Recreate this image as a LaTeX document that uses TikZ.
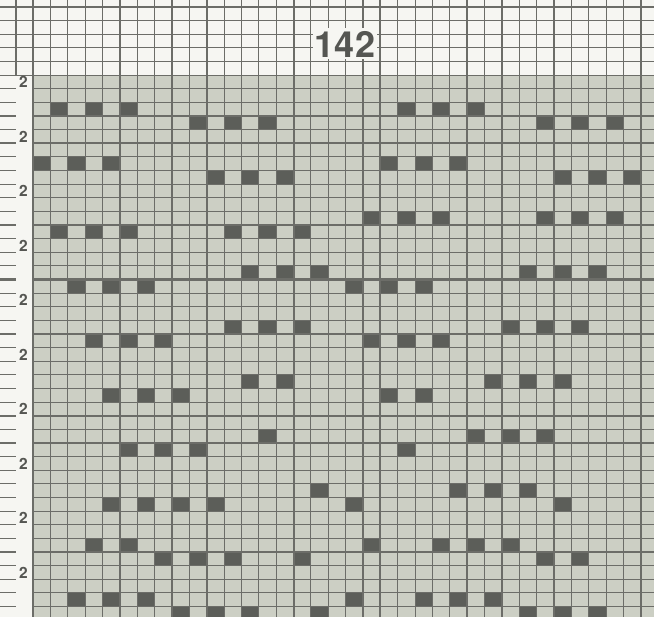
\documentclass[tikz,border=0pt]{standalone}
\usepackage{fontspec}
\setmainfont{TeX Gyre Heros}
\definecolor{paper}{RGB}{246,246,242}
\definecolor{cellgrey}{RGB}{204,207,196}
\definecolor{darkcell}{RGB}{92,94,89}
\definecolor{gridline}{RGB}{108,109,104}
\definecolor{txt}{RGB}{85,86,82}
\tikzset{
  thinline/.style={draw=gridline, line width=1.1pt},
  thickline/.style={draw=gridline, line width=2.1pt},
  knitcell/.style={fill=darkcell},
  rowlabel/.style={font=\bfseries\fontsize{15.5}{15.5}\selectfont, text=txt, inner sep=0pt},
  titlelabel/.style={font=\bfseries\fontsize{36}{36}\selectfont, text=txt, fill=paper, minimum width=64pt, minimum height=31pt, inner sep=0pt}
}
\begin{document}
\begin{tikzpicture}[x=1pt,y=-1pt]
\useasboundingbox (0,0) rectangle (654,617);
\clip (0,0) rectangle (654,617);
\fill[paper] (0,0) rectangle (654,617);
\fill[cellgrey] (33,75.1) rectangle (654,617);
% dark cells
\foreach \r/\cols in {2/{1,3,5,21,23,25}, 3/{9,11,13,29,31,33}, 6/{0,2,4,20,22,24}, 7/{10,12,14,30,32,34}, 10/{19,21,23,29,31,33}, 11/{1,3,5,11,13,15}, 14/{12,14,16,28,30,32}, 15/{2,4,6,18,20,22}, 18/{11,13,15,27,29,31}, 19/{3,5,7,19,21,23}, 22/{12,14,26,28,30}, 23/{4,6,8,20,22}, 26/{13,25,27,29}, 27/{5,7,9,21}, 30/{16,24,26,28}, 31/{4,6,8,10,18,30}, 34/{3,5,19,23,25,27}, 35/{7,9,11,15,29,31}, 38/{2,4,6,18,22,24,26}, 39/{8,10,12,16,28,30,32}}{
  \foreach \c in \cols {
    \fill[knitcell] ({33+17.37*\c},{75.1+13.625*\r}) rectangle ++(17.37,13.625);
  }
}
% vertical lines
\foreach \c in {0,...,36} \draw[thinline] ({33+17.37*\c},0) -- ({33+17.37*\c},617);
\foreach \c in {0,5,...,35} \draw[thickline] ({33+17.37*\c},0) -- ({33+17.37*\c},617);
\draw[thinline] (16,0) -- (16,75.1);
% horizontal lines, top white part
\foreach \r in {-5,...,0} \draw[thinline] (0,{75.1+13.625*\r}) -- (654,{75.1+13.625*\r});
\draw[thickline] (0,7) -- (654,7);
% horizontal lines, chart part
\foreach \r in {1,...,39} {
  \draw[thinline] (33,{75.1+13.625*\r}) -- (654,{75.1+13.625*\r});
  \draw[thinline] (0,{75.1+13.625*\r}) -- (16,{75.1+13.625*\r});
}
\foreach \r in {5,15,25,35} {
  \draw[thickline] (33,{75.1+13.625*\r}) -- (654,{75.1+13.625*\r});
  \draw[thickline] (0,{75.1+13.625*\r}) -- (16,{75.1+13.625*\r});
}
% labels
\foreach \k in {0,...,9} \node[rowlabel] (lab\k) at (23.5,{75.1+13.625*(4*\k+0.5)}) {2};
\node[titlelabel] (title) at (345,44) {142};
\end{tikzpicture}
\end{document}
